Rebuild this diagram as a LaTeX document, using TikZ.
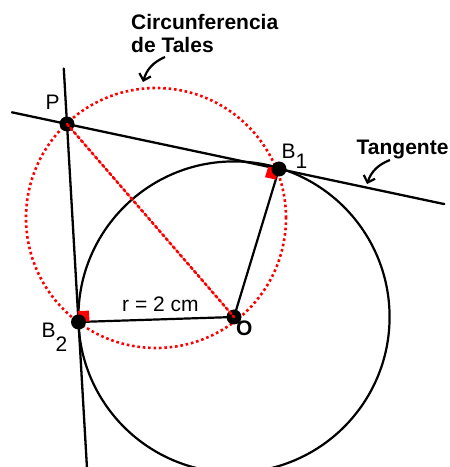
\documentclass[tikz,border=0pt]{standalone}
\usepackage{fontspec}
\setmainfont{Liberation Sans}
\usepackage{tikz}
\usetikzlibrary{calc, arrows.meta}
\usepackage{tkz-euclide}

\tikzset{
  thales/.style={red, line width=2.6pt, dash pattern=on 2.6pt off 2.8pt},
  callout/.style={black, line width=2.2pt, -{Straight Barb[length=6pt,width=12pt]}},
  lbl/.style={inner sep=0pt, anchor=base west},
}

\begin{document}
\begin{tikzpicture}[x=10pt, y=10pt, font=\fontsize{21}{23}\selectfont]
            \useasboundingbox (0,0) rectangle (45,46.7);
            \tkzDefPoints{6.7/34.3/P, 23.4/15/O, 27.9/29.8/B_1, 7.85/14.5/B_2, 15.6/24.9/M, 28.6/24.9/T}
            \tkzDefPoints{16.5/41/a_1, 14.3/38.5/a_2, 39/30.7/t_1, 36.7/28.3/t_2}
            \tkzDrawCircle[black, line width=2.2pt](O,B_2)
            \tkzDrawCircle[thales](M,T)
            \tkzDrawSegments[black, line width=2.2pt](O,B_1 O,B_2)
            \tkzDrawLine[black, line width=2.3pt, add=0.26 and 0.78](P,B_1)
            \tkzDrawLine[black, line width=2.3pt, add=0.28 and 0.73](P,B_2)
            % right angles
            \foreach \v in {B_1,B_2} {
              \coordinate (s_a) at ($(\v)!11pt!(P)$);
              \coordinate (s_b) at ($(\v)!11pt!(O)$);
              \fill[red] (\v) -- (s_a) -- ($(s_a)+(s_b)-(\v)$) -- (s_b) -- cycle;
            }
            \foreach \p in {P,B_1,B_2,O} \fill (\p) circle (7.5pt);
            \tkzDrawSegments[thales](P,O)
            \draw[callout] (a_1) to[bend right=25] (a_2);
            \draw[callout] (t_1) to[bend right=25] (t_2);
            \node[lbl] (lP) at (4.55,35.7) {P};
            \node[lbl] (lB1) at (28.15,30.8) {B\raisebox{-10pt}{1}};
            \node[lbl] (lB2) at (4.15,12.9) {B\raisebox{-14pt}{2}};
            \node[lbl, font=\fontsize{21}{23}\selectfont\bfseries] (lO) at (23.6,13.1) {O};
            \node[lbl] (lr) at (12.2,15.5) {r = 2 cm};
            \node[inner sep=0pt, anchor=north west, align=left, font=\fontsize{21}{23}\selectfont\bfseries] (lTales) at (13.1,45.3) {Circunferencia\\de Tales};
            \node[lbl, font=\fontsize{21}{23}\selectfont\bfseries] (lTan) at (35.65,31.2) {Tangente};
        \end{tikzpicture}
\end{document}
